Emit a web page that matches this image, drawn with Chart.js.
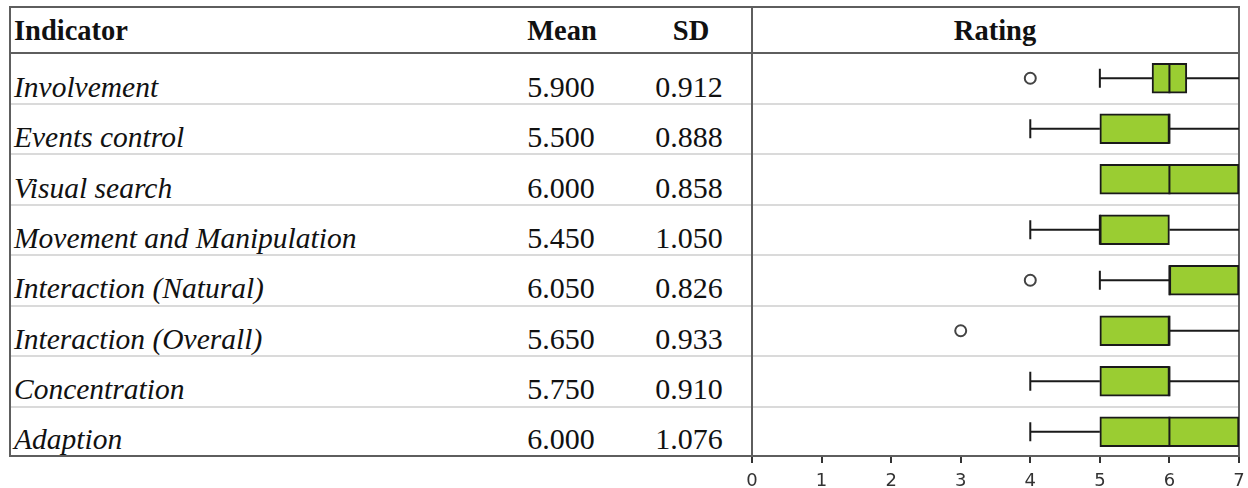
<!DOCTYPE html>
<html>
<head>
<meta charset="utf-8">
<script src="https://cdn.jsdelivr.net/npm/chart.js@4.4.1/dist/chart.umd.min.js"></script>
<style>
  html, body { margin: 0; padding: 0; background: #fff; overflow: hidden; }
  #page { position: relative; width: 1248px; height: 488px; overflow: hidden; }
  .rule { position: absolute; }
  .cell { position: absolute; font-family: "Liberation Serif", "Times New Roman", serif; line-height: 28px; color: #111; white-space: nowrap; }
  .head { font-weight: bold; }
  .name { font-style: italic; }
  .num { text-align: center; width: 140px; }
  #box { position: absolute; left: 736px; top: 53px; }
</style>
</head>
<body>
<div id="page">
  <canvas id="box" width="519" height="440"></canvas>
</div>

<script>
  // table + box plot data
  var categories = ['Involvement', 'Events control', 'Visual search', 'Movement and Manipulation',
    'Interaction (Natural)', 'Interaction (Overall)', 'Concentration', 'Adaption'];
  var means = [5.900, 5.500, 6.000, 5.450, 6.050, 5.650, 5.750, 6.000];
  var sds = [0.912, 0.888, 0.858, 1.050, 0.826, 0.933, 0.910, 1.076];
  var lowWhisker = [5, 4, 5, 4, 5, 5, 4, 4];
  var q1 = [5.75, 5, 5, 5, 6, 5, 5, 5];
  var median = [6, 6, 6, 5, 6, 6, 6, 6];
  var q3 = [6.25, 6, 7, 6, 7, 6, 6, 7];
  var highWhisker = [7, 7, 7, 7, 7, 7, 7, 7];
  var outliers = [[4], [], [], [], [4], [3], [], []];
  var ratingTicks = [0, 1, 2, 3, 4, 5, 6, 7];

  var page = document.getElementById('page');
  var canvas = document.getElementById('box');

  function addRule(left, top, width, height, color) {
    var d = document.createElement('div');
    d.className = 'rule';
    d.style.left = left + 'px'; d.style.top = top + 'px';
    d.style.width = width + 'px'; d.style.height = height + 'px';
    d.style.background = color;
    page.insertBefore(d, canvas);
  }
  function addText(text, cls, left, baseline, size) {
    var d = document.createElement('div');
    d.className = 'cell ' + cls;
    d.textContent = text;
    d.style.fontSize = size + 'px';
    d.style.left = left + 'px';
    d.style.top = (baseline - 14 - 0.3375 * size) + 'px';
    page.insertBefore(d, canvas);
  }

  var rowTop = 53, rowH = 50.5;
  // light row separators
  for (var k = 1; k < categories.length; k++) {
    addRule(11, Math.round(rowTop + rowH * k) - 1, 1227, 2, '#dadada');
  }
  // frame, header rule, column divider
  addRule(9, 6, 1231, 2, '#5e5e5e');
  addRule(9, 455, 1231, 2, '#5e5e5e');
  addRule(9, 6, 2, 451, '#5e5e5e');
  addRule(1238, 6, 2, 451, '#5e5e5e');
  addRule(9, 52, 1231, 2, '#5e5e5e');
  addRule(751, 6, 2, 451, '#5e5e5e');

  addText('Indicator', 'head', 14, 41, 28.5);
  addText('Mean', 'head num', 492, 41, 28.5);
  addText('SD', 'head num', 621, 41, 28.5);
  addText('Rating', 'head num', 925, 41, 28.5);

  categories.forEach(function (c, i) {
    var base = Math.round(97 + 50.3 * i);
    addText(c, 'name', 14, base, 29.5);
    addText(means[i].toFixed(3), 'num', 491, base, 30);
    addText(sds[i].toFixed(3), 'num', 619, base, 30);
  });

  var outlierPoints = [];
  outliers.forEach(function (list, i) {
    list.forEach(function (v) { outlierPoints.push({ x: v, y: categories[i] }); });
  });

  var whiskers = {
    id: 'whiskers',
    beforeDatasetsDraw: function (chart) {
      var ctx = chart.ctx, x = chart.scales.x, y = chart.scales.y;
      ctx.save();
      ctx.strokeStyle = '#1a1a1a';
      ctx.lineWidth = 2;
      categories.forEach(function (c, i) {
        var yc = y.getPixelForValue(i);
        ctx.beginPath();
        if (lowWhisker[i] < q1[i]) {
          var xl = x.getPixelForValue(lowWhisker[i]);
          ctx.moveTo(xl, yc); ctx.lineTo(x.getPixelForValue(q1[i]), yc);
          ctx.moveTo(xl, yc - 9.5); ctx.lineTo(xl, yc + 9.5);
        }
        if (highWhisker[i] > q3[i]) {
          ctx.moveTo(x.getPixelForValue(q3[i]), yc); ctx.lineTo(x.getPixelForValue(highWhisker[i]), yc);
        }
        ctx.stroke();
      });
      ctx.restore();
    },
    afterDatasetsDraw: function (chart) {
      var ctx = chart.ctx, x = chart.scales.x, y = chart.scales.y;
      ctx.save();
      ctx.strokeStyle = '#1a1a1a';
      ctx.lineWidth = 2;
      categories.forEach(function (c, i) {
        var yc = y.getPixelForValue(i);
        var xm = x.getPixelForValue(median[i]);
        ctx.beginPath();
        ctx.moveTo(xm, yc - 15); ctx.lineTo(xm, yc + 15);
        ctx.stroke();
      });
      ctx.restore();
    }
  };

  new Chart(canvas, {
    type: 'bar',
    data: {
      labels: categories,
      datasets: [
        {
          type: 'bar',
          data: categories.map(function (c, i) { return [q1[i], q3[i]]; }),
          backgroundColor: '#9acd32',
          borderColor: '#1a1a1a',
          borderWidth: 2,
          borderSkipped: false,
          barThickness: 30,
          grouped: false,
          order: 2
        },
        {
          type: 'scatter',
          data: outlierPoints,
          pointStyle: 'circle',
          radius: 5.5,
          backgroundColor: '#fff',
          borderColor: '#444',
          borderWidth: 2,
          order: 1
        }
      ]
    },
    options: {
      indexAxis: 'y',
      responsive: false,
      animation: false,
      layout: { autoPadding: false, padding: { left: 16, right: 16, top: 0, bottom: 0 } },
      plugins: { legend: { display: false }, tooltip: { enabled: false } },
      scales: {
        y: { type: 'category', display: false, offset: true },
        x: {
          type: 'linear', min: 0, max: 7,
          afterBuildTicks: function (axis) { axis.ticks = ratingTicks.map(function (v) { return { value: v }; }); },
          afterFit: function (axis) { axis.height = 36; },
          grid: { drawOnChartArea: false, drawTicks: true, tickLength: 6, color: '#333', lineWidth: 2 },
          border: { display: false },
          ticks: { font: { family: 'DejaVu Sans', size: 18 }, color: '#333', padding: 8, maxRotation: 0 }
        }
      }
    },
    plugins: [whiskers]
  });
</script>
</body>
</html>
